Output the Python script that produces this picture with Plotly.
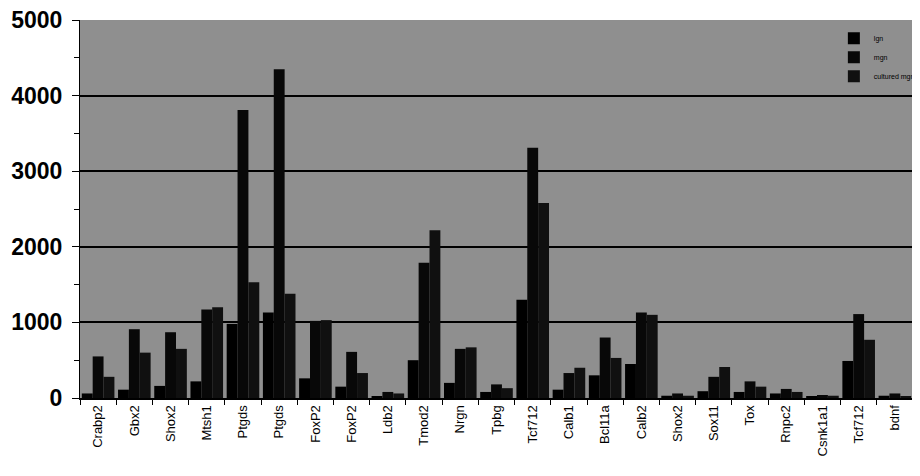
import plotly.graph_objects as go

genes = ["Crabp2", "Gbx2", "Shox2", "Mtsh1", "Ptgds", "Ptgds", "FoxP2", "FoxP2", "Ldb2",
         "Tmod2", "Nrgn", "Tpbg", "Tcf712", "Calb1", "Bcl11a", "Calb2", "Shox2", "Sox11",
         "Tox", "Rnpc2", "Csnk1a1", "Tcf712", "bdnf"]
lgn = [60, 110, 160, 220, 980, 1130, 260, 150, 20, 500, 200, 80, 1300, 110, 300, 450,
       30, 90, 80, 60, 20, 490, 30]
mgn = [550, 910, 870, 1170, 3810, 4350, 1020, 610, 80, 1790, 650, 180, 3310, 330, 800,
       1130, 60, 280, 220, 120, 40, 1110, 60]
cultured_mgn = [280, 600, 650, 1200, 1530, 1380, 1030, 330, 60, 2220, 670, 130, 2580,
                400, 530, 1100, 30, 410, 150, 80, 30, 770, 20]
series_names = ["lgn", "mgn", "cultured mgn"]
y_ticks = [0, 1000, 2000, 3000, 4000, 5000]

# unique category keys (genes repeat), labels shown via ticktext
keys = [f"{g}_{i}" for i, g in enumerate(genes)]

fig = go.Figure()
for name, vals, col in zip(series_names, [lgn, mgn, cultured_mgn], ["#000000", "#080808", "#101010"]):
    fig.add_trace(go.Bar(x=keys, y=vals, name=name, marker=dict(color=col, line=dict(width=0))))

fig.update_layout(
    width=920, height=476,
    margin=dict(l=72, r=15, t=12, b=86, autoexpand=False),
    paper_bgcolor="white",
    plot_bgcolor="#8f8f8f",
    barmode="group",
    bargap=0.1,
    bargroupgap=0,
    showlegend=True,
    legend=dict(x=0.905, y=0.99, xanchor="left", yanchor="top",
                bgcolor="rgba(0,0,0,0)", font=dict(size=7, color="black",
                family="Liberation Sans"), tracegroupgap=0, itemwidth=30,
                borderwidth=0),
    font=dict(family="Liberation Sans", color="black"),
)
fig.update_xaxes(
    type="category",
    range=[-0.5, len(genes) - 0.5],
    tickmode="array", tickvals=keys, ticktext=genes,
    tickangle=-90,
    tickfont=dict(size=13, family="Liberation Sans", color="black"),
    ticks="outside", tickson="boundaries", ticklen=5, tickcolor="black",
    showline=True, linecolor="black", linewidth=2,
    showgrid=False,
)
fig.update_yaxes(
    range=[0, 5000],
    tickmode="array", tickvals=y_ticks, ticktext=[f"<b>{v}</b>" for v in y_ticks],
    tickfont=dict(size=23, family="Liberation Sans", color="black"),
    ticklabeloverflow="allow",
    ticks="outside", ticklen=7, tickcolor="black",
    ticklabelstandoff=5,
    minor=dict(ticks="outside", dtick=500, ticklen=5, tickcolor="black", showgrid=False),
    showline=True, linecolor="black", linewidth=1,
    showgrid=True, gridcolor="black", gridwidth=2,
    zeroline=False,
)

fig.write_html("out.html")
